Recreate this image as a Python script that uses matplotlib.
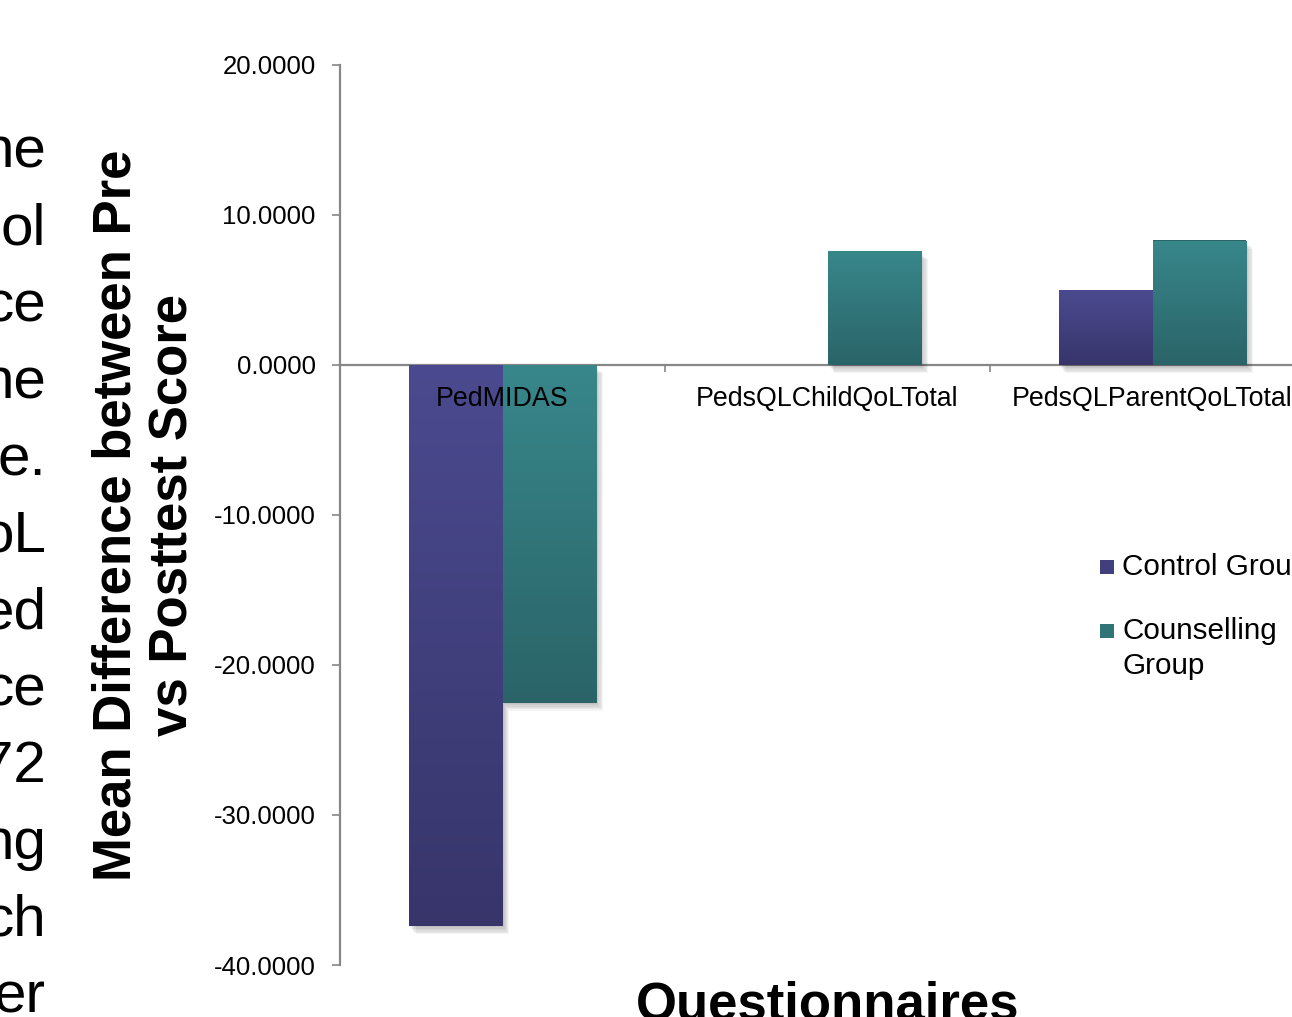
import numpy as np
import matplotlib
matplotlib.use("Agg")
import matplotlib.pyplot as plt
import matplotlib.patheffects as pe
from matplotlib.colors import LinearSegmentedColormap
from matplotlib.patches import Rectangle
from matplotlib.ticker import FixedLocator, FormatStrFormatter

plt.rcParams['font.family'] = ['Liberation Sans', 'DejaVu Sans']

# ---- data ----
categories = ["PedMIDAS", "PedsQLChildQoLTotal", "PedsQLParentQoLTotal"]
control_group = [-37.4, 0.0, 5.0]
counselling_group = [-22.5, 7.6, 8.3]
series_labels = ["Control Group", "Counselling\nGroup"]
y_ticks = [-40, -30, -20, -10, 0, 10, 20]
side_text = ["ne", "ol", "ce", "ne", "e.", "oL", "ed", "ce", "72", "ng", "ch", "er"]

# ---- styling ----
W, H = 1292, 1017
axis_grey = "#878787"
control_top, control_bottom = "#4B4A90", "#37356A"
couns_top, couns_bottom = "#38878B", "#2A6468"
legend_colors = ["#413F7C", "#307478"]

fig = plt.figure(figsize=(W / 100, H / 100), dpi=100)
fig.patch.set_facecolor("white")

# axes box in pixel units (extends slightly past the right edge)
left_px, right_px, top_px, bottom_px = 340, 1315, 65, 965
ax = fig.add_axes([left_px / W, 1 - bottom_px / H,
                   (right_px - left_px) / W, (bottom_px - top_px) / H])
ax.set_facecolor("none")

x = np.arange(len(categories))
bw = 0.288

# soft drop shadow built from several faint offset copies
shadow = [pe.SimplePatchShadow(offset=(o * 0.8, -o), shadow_rgbFace="black",
                               alpha=0.045) for o in (1, 2, 3, 4, 5, 6)]
shadow.append(pe.Normal())


def gradient_fill(bar, top_c, bot_c):
    x0, y0 = bar.get_x(), bar.get_y()
    w, h = bar.get_width(), bar.get_height()
    if h == 0:
        return
    ylo, yhi = min(y0, y0 + h), max(y0, y0 + h)
    cmap = LinearSegmentedColormap.from_list("grad", [bot_c, top_c])
    grad = np.linspace(0, 1, 256).reshape(-1, 1)
    im = ax.imshow(grad, extent=(x0, x0 + w, ylo, yhi), origin="lower",
                   cmap=cmap, aspect="auto", interpolation="bilinear",
                   zorder=bar.get_zorder() + 0.1)
    im.set_clip_path(bar)


bars_c = ax.bar(x - bw / 2, control_group, bw, color=control_bottom,
                linewidth=0, zorder=2)
bars_k = ax.bar(x + bw / 2, counselling_group, bw, color=couns_bottom,
                linewidth=0, zorder=2)
for b in bars_c:
    b.set_path_effects(shadow)
    gradient_fill(b, control_top, control_bottom)
for b in bars_k:
    b.set_path_effects(shadow)
    gradient_fill(b, couns_top, couns_bottom)

ax.set_xlim(-0.5, len(categories) - 0.5)
ax.set_ylim(-40, 20)

# spines
for s in ("top", "right"):
    ax.spines[s].set_visible(False)
ax.spines["left"].set_color(axis_grey)
ax.spines["left"].set_linewidth(1.6)
ax.spines["bottom"].set_position(("data", 0))
ax.spines["bottom"].set_color(axis_grey)
ax.spines["bottom"].set_linewidth(1.6)
ax.spines["bottom"].set_zorder(1)

# y axis
ax.yaxis.set_major_locator(FixedLocator(y_ticks))
ax.yaxis.set_major_formatter(FormatStrFormatter("%.4f"))
ax.tick_params(axis="y", direction="out", length=5.5, width=1.2, color=axis_grey,
               labelsize=18.5, pad=12, labelcolor="black")

# x axis: labels at centres (drawn over the bars), tick marks at boundaries
ax.set_xticks(x)
ax.set_xticklabels(categories)
ax.xaxis.set_minor_locator(FixedLocator([0.5, 1.5]))
ax.tick_params(axis="x", which="major", length=0, labelsize=19.3, pad=15,
               labelcolor="black")
ax.tick_params(axis="x", which="minor", direction="out", length=5,
               width=1.2, color=axis_grey)
ax.xaxis.set_zorder(5)

# axis titles
fig.text(145 / W, 1 - 515 / H,
         "Mean Difference between Pre\nvs Posttest Score",
         rotation=90, ha="center", va="center", multialignment="center",
         fontsize=38, fontweight="bold", linespacing=1.2)
fig.text(827.5 / W, 1 - 1020 / H, "Questionnaires", ha="center",
         va="baseline", fontsize=38, fontweight="bold")

# legend: square key aligned with the first line of each entry
legend_rows_px = [567, 631]
for lbl, col, yc in zip(series_labels, legend_colors, legend_rows_px):
    fig.patches.append(Rectangle((1100 / W, 1 - (yc + 7) / H), 14 / W, 14 / H,
                                 transform=fig.transFigure, facecolor=col,
                                 linewidth=0))
    fig.text(1122 / W, 1 - (yc - 14) / H, lbl, ha="left", va="top",
             fontsize=21.3, linespacing=1.3)

# text from the neighbouring slide column
for i, t in enumerate(side_text):
    fig.text(46 / W, 1 - (168 + i * 76.8) / H, t, ha="right", va="baseline",
             fontsize=42, color="black")

fig.savefig("out.png", dpi=100, facecolor="white")
